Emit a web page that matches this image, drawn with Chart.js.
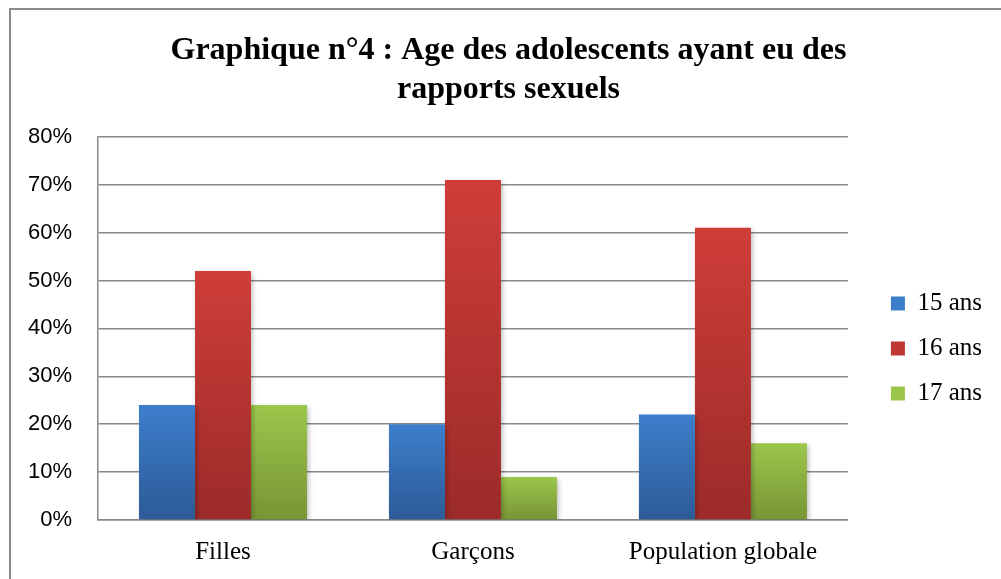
<!DOCTYPE html>
<html>
<head>
<meta charset="utf-8">
<script src="https://cdn.jsdelivr.net/npm/chart.js@4.4.1/dist/chart.umd.min.js"></script>
<style>
  body { margin: 0; background: #fff; }
  #wrap { width: 1001px; height: 579px; }
</style>
</head>
<body>
<div id="wrap"><canvas id="ageChart" width="1001" height="579"></canvas></div>
<script>
/* data */
var categories = ['Filles', 'Garçons', 'Population globale'];
var seriesNames = ['15 ans', '16 ans', '17 ans'];
var values15 = [24, 20, 22];
var values16 = [52, 71, 61];
var values17 = [24, 9, 16];
var yTicks = [0, 10, 20, 30, 40, 50, 60, 70, 80];

/* gradient colors: top, bottom */
var colors = [
    ['#3d7ecb', '#2c5a96'],
    ['#cf3d38', '#9b2b29'],
    ['#9cc64b', '#779535']
];

function barFill(i) {
    return function (context) {
        var chart = context.chart;
        var c = colors[i];
        if (context.type !== 'data' || !chart.chartArea || !chart.scales.y) {
            return c[0];
        }
        var yTop = chart.scales.y.getPixelForValue(context.raw);
        var yBot = chart.scales.y.getPixelForValue(0);
        if (!(yBot > yTop)) return c[0];
        var grad = chart.ctx.createLinearGradient(0, yTop, 0, yBot);
        grad.addColorStop(0, c[0]);
        grad.addColorStop(1, c[1]);
        return grad;
    };
}

// white background + the grey frame of the chart
const framePlugin = {
    id: 'frame',
    beforeDraw(chart) {
        const ctx = chart.ctx;
        ctx.save();
        ctx.fillStyle = '#fff';
        ctx.fillRect(0, 0, chart.width, chart.height);
        ctx.strokeStyle = '#8a8a8a';
        ctx.lineWidth = 2;
        ctx.beginPath();
        ctx.moveTo(10, chart.height);
        ctx.lineTo(10, 9);
        ctx.lineTo(chart.width, 9);
        ctx.stroke();
        ctx.restore();
    }
};

// soft shadow behind the bars
const shadowPlugin = {
    id: 'barShadow',
    beforeDatasetsDraw(chart) {
        const ctx = chart.ctx;
        ctx.save();
        ctx.shadowColor = 'rgba(0, 0, 0, 0.28)';
        ctx.shadowBlur = 5;
        ctx.shadowOffsetX = 2;
        ctx.shadowOffsetY = 2;
    },
    afterDatasetsDraw(chart) {
        chart.ctx.restore();
    }
};

const data = {
    labels: categories,
    datasets: [
        { label: seriesNames[0], data: values15, backgroundColor: barFill(0), borderWidth: 0 },
        { label: seriesNames[1], data: values16, backgroundColor: barFill(1), borderWidth: 0 },
        { label: seriesNames[2], data: values17, backgroundColor: barFill(2), borderWidth: 0 }
    ]
};

const ctx = document.getElementById('ageChart').getContext('2d');
const ageChart = new Chart(ctx, {
    type: 'bar',
    data: data,
    plugins: [framePlugin, shadowPlugin],
    options: {
        responsive: false,
        animation: false,
        categoryPercentage: 0.672,
        barPercentage: 1,
        layout: { padding: { left: 25, right: 9, top: 0, bottom: 12 } },
        plugins: {
            tooltip: { enabled: false },
            title: {
                display: true,
                text: ['Graphique n°4 : Age des adolescents ayant eu des', 'rapports sexuels'],
                color: '#000',
                font: { family: '"Liberation Serif", "Times New Roman", serif', size: 32, weight: 'bold', lineHeight: 1.2 },
                padding: { top: 32, bottom: 28 }
            },
            legend: {
                position: 'right',
                fullSize: false,
                title: { display: true, text: '', font: { size: 1 }, padding: { top: 39, bottom: 0 } },
                labels: {
                    color: '#000',
                    boxWidth: 14,
                    boxHeight: 14,
                    padding: 20,
                    font: { family: '"Liberation Serif", "Times New Roman", serif', size: 25 }
                }
            }
        },
        scales: {
            x: {
                afterFit: function (scale) { scale.height = 47; },
                grid: { display: false, drawTicks: false },
                border: { display: true, color: '#8a8a8a', width: 1.5 },
                ticks: {
                    color: '#000',
                    padding: 17,
                    font: { family: '"Liberation Serif", "Times New Roman", serif', size: 25 }
                }
            },
            y: {
                min: 0,
                max: 80,
                afterFit: function (scale) { scale.width = 73; },
                afterBuildTicks: function (scale) {
                    scale.ticks = yTicks.map(v => ({ value: v }));
                },
                grid: { color: '#8a8a8a', lineWidth: 1.5, drawTicks: false },
                border: { display: true, color: '#8a8a8a', width: 1.5 },
                ticks: {
                    color: '#000',
                    padding: 26,
                    font: { family: '"Liberation Sans", Arial, sans-serif', size: 22 },
                    callback: function (v) { return v + '%'; }
                }
            },
            gap: {
                type: 'linear',
                position: 'right',
                afterFit: function (scale) { scale.width = 23; },
                grid: { display: false, drawTicks: false },
                border: { display: false },
                ticks: { display: false }
            }
        }
    }
});
</script>
</body>
</html>
